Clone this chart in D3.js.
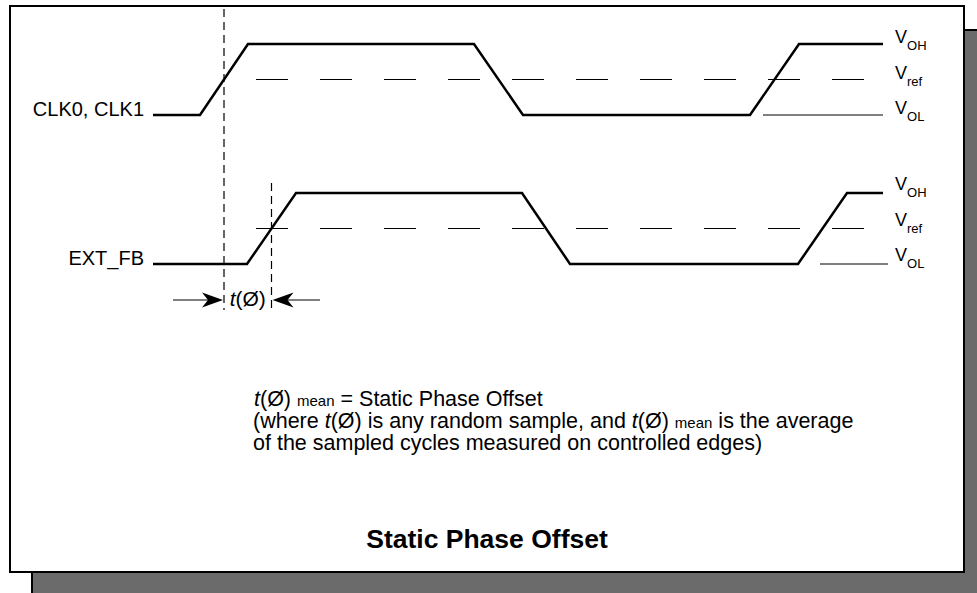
<!DOCTYPE html>
<html>
<head>
<meta charset="utf-8">
<script src="https://cdn.jsdelivr.net/npm/d3@7"></script>
<style>
  body { margin: 0; background: #fff; }
  text { font-family: "Liberation Sans", Arial, Helvetica, sans-serif; fill: #000; }
</style>
</head>
<body>
<div id="d3-container"></div>
<script>
/**
 * CONSTANTS AND GLOBALS
 * */
const width = 977,
  height = 593;

// time axis (arbitrary units) and logic levels
const timeDomain = [0, 730];
const levelSubs = ["OL", "ref", "OH"];
const levelValues = [0, 0.5, 1];

// waveform breakpoints
const clkTimes = [0, 47, 95, 321, 370, 597, 646, 730];
const clkLevels = [0, 0, 1, 1, 0, 0, 1, 1];
const extTimes = [0, 94, 143, 369, 417, 645, 694, 730];
const extLevels = [0, 0, 1, 1, 0, 0, 1, 1];

// reference line extents (time units)
const vrefSpan = [103, 711];
const clkVolSpan = [610, 730];
const extVolSpan = [667, 735];
// arrow tails for t(Ø)
const arrowTails = [20, 167];

const signalNames = ["CLK0, CLK1", "EXT_FB"];

let svg;

init();

function init() {
  svg = d3
    .select("#d3-container")
    .append("svg")
    .attr("width", width)
    .attr("height", height);

  // shadow + frame
  svg.append("rect")
    .attr("x", 32).attr("y", 30)
    .attr("width", 1000).attr("height", 600)
    .attr("fill", "#6b6b6b")
    .attr("stroke", "#000")
    .attr("stroke-width", 2);
  svg.append("rect")
    .attr("x", 10).attr("y", 6)
    .attr("width", 954).attr("height", 566)
    .attr("fill", "#fff")
    .attr("stroke", "#000")
    .attr("stroke-width", 2);

  const x = d3.scaleLinear().domain(timeDomain).range([153, 883]);
  const yClk = d3.scaleLinear().domain([0, 1]).range([115, 44]);
  const yExt = d3.scaleLinear().domain([0, 1]).range([264, 193]);

  const signals = [
    { name: signalNames[0], times: clkTimes, levels: clkLevels, y: yClk, vol: clkVolSpan, lblOff: -1 },
    { name: signalNames[1], times: extTimes, levels: extLevels, y: yExt, vol: extVolSpan, lblOff: -3 },
  ];

  const line = d3.line();

  signals.forEach(s => {
    // Vref dashed
    svg.append("line")
      .attr("x1", x(vrefSpan[0])).attr("x2", x(vrefSpan[1]))
      .attr("y1", s.y(0.5)).attr("y2", s.y(0.5))
      .attr("stroke", "#000")
      .attr("stroke-width", 1)
      .attr("stroke-dasharray", "32,32");

    // VOL thin line
    svg.append("line")
      .attr("x1", x(s.vol[0])).attr("x2", x(s.vol[1]))
      .attr("y1", s.y(0)).attr("y2", s.y(0))
      .attr("stroke", "#000")
      .attr("stroke-width", 1);

    // waveform
    svg.append("path")
      .attr("d", line(s.times.map((t, i) => [x(t), s.y(s.levels[i])])))
      .attr("fill", "none")
      .attr("stroke", "#000")
      .attr("stroke-width", 2.5)
      .attr("stroke-linejoin", "miter");

    // signal label
    svg.append("text")
      .attr("x", x(0) - 9)
      .attr("y", s.y(0) + 1)
      .attr("text-anchor", "end")
      .attr("font-size", 20)
      .text(s.name);

    // level labels
    levelValues.forEach((v, i) => {
      const t = svg.append("text")
        .attr("x", 895)
        .attr("y", s.y(v) + s.lblOff)
        .attr("font-size", 18);
      t.append("tspan").text("V");
      t.append("tspan")
        .attr("font-size", 13)
        .attr("dy", 7)
        .text(levelSubs[i]);
    });
  });

  // Vref crossing of the first rising edge of each signal
  const crossClk = (clkTimes[1] + clkTimes[2]) / 2;
  const crossExt = (extTimes[1] + extTimes[2]) / 2;

  svg.append("line")
    .attr("x1", x(crossClk)).attr("x2", x(crossClk))
    .attr("y1", 9).attr("y2", 310)
    .attr("stroke", "#000")
    .attr("stroke-width", 1.2)
    .attr("stroke-dasharray", "8,5");
  svg.append("line")
    .attr("x1", x(crossExt)).attr("x2", x(crossExt))
    .attr("y1", 183).attr("y2", 310)
    .attr("stroke", "#000")
    .attr("stroke-width", 1.2)
    .attr("stroke-dasharray", "8,5");

  // arrows
  const ay = 300;
  const arrows = [
    { from: arrowTails[0], to: crossClk, dir: 1 },
    { from: arrowTails[1], to: crossExt, dir: -1 },
  ];
  arrows.forEach(a => {
    const tip = x(a.to) - a.dir * 1;
    const d = a.dir;
    svg.append("line")
      .attr("x1", x(a.from)).attr("x2", tip - d * 10)
      .attr("y1", ay).attr("y2", ay)
      .attr("stroke", "#000")
      .attr("stroke-width", 1.2);
    svg.append("path")
      .attr("d", `M${tip},${ay} L${tip - d * 21},${ay - 7.5} L${tip - d * 15},${ay} L${tip - d * 21},${ay + 7.5} Z`)
      .attr("fill", "#000");
  });

  const tphi = svg.append("text")
    .attr("x", (x(crossClk) + x(crossExt)) / 2)
    .attr("y", ay + 6)
    .attr("text-anchor", "middle")
    .attr("font-size", 21);
  tphi.append("tspan").attr("font-style", "italic").text("t");
  tphi.append("tspan").text("(Ø)");

  // explanation text
  const fs = 21.5, fsSub = 15;
  const l1 = svg.append("text").attr("x", 254).attr("y", 406).attr("font-size", fs);
  l1.append("tspan").attr("font-style", "italic").text("t");
  l1.append("tspan").text("(Ø) ");
  l1.append("tspan").attr("font-size", fsSub).text("mean");
  l1.append("tspan").text(" = Static Phase Offset");

  const l2 = svg.append("text").attr("x", 253).attr("y", 428).attr("font-size", fs);
  l2.append("tspan").text("(where ");
  l2.append("tspan").attr("font-style", "italic").text("t");
  l2.append("tspan").text("(Ø) is any random sample, and ");
  l2.append("tspan").attr("font-style", "italic").text("t");
  l2.append("tspan").text("(Ø) ");
  l2.append("tspan").attr("font-size", fsSub).text("mean");
  l2.append("tspan").text(" is the average");

  svg.append("text").attr("x", 253).attr("y", 450).attr("font-size", fs)
    .text("of the sampled cycles measured on controlled edges)");

  // title
  svg.append("text")
    .attr("x", 487)
    .attr("y", 548)
    .attr("text-anchor", "middle")
    .attr("font-size", 26.5)
    .attr("font-weight", "bold")
    .text("Static Phase Offset");
}
</script>
</body>
</html>
